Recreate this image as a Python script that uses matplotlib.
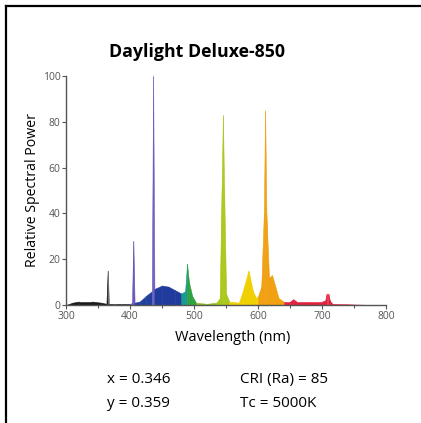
import matplotlib
matplotlib.use("Agg")
import matplotlib.pyplot as plt
from matplotlib.lines import Line2D

plt.rcParams['font.family'] = ['Open Sans', 'DejaVu Sans']

# relative spectral power
wavelength = [300, 310, 320, 340, 355, 363, 365, 367, 380, 400, 403, 405, 407,
              415, 425, 434, 436, 438, 450, 460, 470, 480, 486, 489, 492, 497,
              503, 520, 535, 540, 543, 545, 547, 550, 555, 570, 576, 585, 592,
              597, 600, 605, 609, 611, 613, 617, 622, 627, 632, 640, 650, 655,
              660, 680, 700, 705, 707, 710, 712, 716, 740, 780, 800]
power = [0, 1, 1.5, 1.5, 1, 0.5, 15, 0.5, 0.3, 0.3, 1, 28, 1,
         1.5, 4, 6, 100, 7, 8.5, 8, 6.5, 5, 6, 18, 10, 4,
         1, 0.5, 1, 3, 50, 83, 50, 5, 1.5, 1, 6, 15, 6,
         3, 4, 8, 40, 85, 40, 12, 13, 8, 3, 1.5, 1.5, 2.5,
         1.5, 1.5, 1.5, 2, 5, 5, 2, 0.5, 0.3, 0, 0]

# colour bands under the curve (upper wavelength edge, colour)
band_edges = [364, 368, 400, 408, 434, 438, 480, 490, 500, 535, 560, 600, 640, 800]
band_colors = ['#1a1a1a', '#6a6a6a', '#1a1a1a', '#6b55b8', '#22409e', '#6b5cc0',
               '#1f3c9c', '#169a94', '#2ea040', '#8cbc20', '#a9c818', '#f0d000',
               '#f0a010', '#e0203c']

TITLE = 'Daylight Deluxe-850'
info_left = ['x = 0.346', 'y = 0.359']
info_right = ['CRI (Ra) = 85', 'Tc = 5000K']


def band_color(w):
    for edge, c in zip(band_edges, band_colors):
        if w <= edge:
            return c
    return band_colors[-1]


def main():
    fig = plt.figure(figsize=(4.21, 4.23), dpi=100)
    ax = fig.add_axes([0.157, 0.279, 0.760, 0.541])

    for i in range(len(wavelength) - 1):
        w0, w1 = wavelength[i], wavelength[i + 1]
        c = band_color((w0 + w1) / 2)
        ax.fill_between([w0, w1], [power[i], power[i + 1]], 0,
                        color=c, lw=0.4, edgecolor=c)

    ax.set_xlim(300, 800)
    ax.set_ylim(0, 100)
    ax.set_xticks(range(300, 801, 100))
    ax.set_xticks(range(350, 800, 100), minor=True)
    ax.set_yticks(range(0, 101, 20))
    for s in ['top', 'right']:
        ax.spines[s].set_visible(False)
    for s in ['left', 'bottom']:
        ax.spines[s].set_color('#555555')
        ax.spines[s].set_linewidth(1.0)
    ax.tick_params(which='both', direction='out', length=3, width=0.8,
                   color='#555555', labelsize=7.5, labelcolor='#555555', pad=1)
    ax.tick_params(which='minor', length=2)
    ax.set_facecolor('white')

    fig.text(0.468, 0.877, TITLE, ha='center', va='center',
             fontsize=12.8, fontweight='bold')
    fig.text(0.078, 0.55, 'Relative Spectral Power', rotation=90,
             ha='center', va='center', fontsize=10.2)
    fig.text(0.553, 0.201, 'Wavelength (nm)', ha='center', va='center',
             fontsize=10.5)

    for j, (a, b) in enumerate(zip(info_left, info_right)):
        yy = 0.104 - j * 0.057
        fig.text(0.254, yy, a, ha='left', va='center', fontsize=11)
        fig.text(0.570, yy, b, ha='left', va='center', fontsize=11)

    # frame on left and top edge
    fig.add_artist(Line2D([0.015, 0.015], [0, 0.986], color='black', lw=1.6))
    fig.add_artist(Line2D([0.015, 1.0], [0.986, 0.986], color='black', lw=1.6))

    fig.savefig('out.png', dpi=100)


if __name__ == '__main__':
    main()
